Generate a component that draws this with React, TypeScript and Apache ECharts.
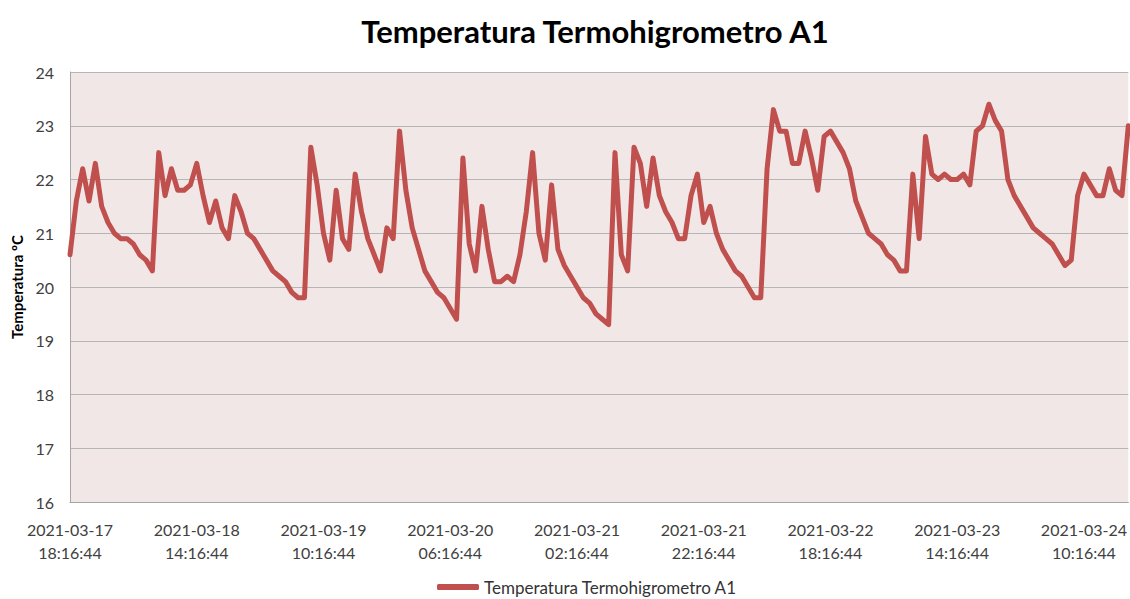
import React, { useEffect, useRef } from "react";
import * as echarts from "echarts";

const TITLE = "Temperatura Termohigrometro A1";
const Y_NAME = "Temperatura ºC";
const START_UTC = Date.UTC(2021, 2, 17, 18, 16, 44);
const STEP_HOURS = 1;

const temps: number[] = [
  20.6, 21.6, 22.2, 21.6, 22.3, 21.5, 21.2, 21.0, 20.9, 20.9,
  20.8, 20.6, 20.5, 20.3, 22.5, 21.7, 22.2, 21.8, 21.8, 21.9,
  22.3, 21.7, 21.2, 21.6, 21.1, 20.9, 21.7, 21.4, 21.0, 20.9,
  20.7, 20.5, 20.3, 20.2, 20.1, 19.9, 19.8, 19.8, 22.6, 21.9,
  21.0, 20.5, 21.8, 20.9, 20.7, 22.1, 21.4, 20.9, 20.6, 20.3,
  21.1, 20.9, 22.9, 21.8, 21.1, 20.7, 20.3, 20.1, 19.9, 19.8,
  19.6, 19.4, 22.4, 20.8, 20.3, 21.5, 20.7, 20.1, 20.1, 20.2,
  20.1, 20.6, 21.4, 22.5, 21.0, 20.5, 21.9, 20.7, 20.4, 20.2,
  20.0, 19.8, 19.7, 19.5, 19.4, 19.3, 22.5, 20.6, 20.3, 22.6,
  22.3, 21.5, 22.4, 21.7, 21.4, 21.2, 20.9, 20.9, 21.7, 22.1,
  21.2, 21.5, 21.0, 20.7, 20.5, 20.3, 20.2, 20.0, 19.8, 19.8,
  22.2, 23.3, 22.9, 22.9, 22.3, 22.3, 22.9, 22.4, 21.8, 22.8,
  22.9, 22.7, 22.5, 22.2, 21.6, 21.3, 21.0, 20.9, 20.8, 20.6,
  20.5, 20.3, 20.3, 22.1, 20.9, 22.8, 22.1, 22.0, 22.1, 22.0,
  22.0, 22.1, 21.9, 22.9, 23.0, 23.4, 23.1, 22.9, 22.0, 21.7,
  21.5, 21.3, 21.1, 21.0, 20.9, 20.8, 20.6, 20.4, 20.5, 21.7,
  22.1, 21.9, 21.7, 21.7, 22.2, 21.8, 21.7, 23.0,
];

const pad = (n: number) => String(n).padStart(2, "0");
const categories: string[] = temps.map((_, i) => {
  const d = new Date(START_UTC + i * STEP_HOURS * 3600000);
  return `${d.getUTCFullYear()}-${pad(d.getUTCMonth() + 1)}-${pad(d.getUTCDate())}\n${pad(d.getUTCHours())}:${pad(d.getUTCMinutes())}:${pad(d.getUTCSeconds())}`;
});

const FONT = "Lato, 'Open Sans', sans-serif";

export default function App() {
  const ref = useRef<HTMLDivElement>(null);
  useEffect(() => {
    if (!ref.current) return;
    const chart = echarts.init(ref.current, undefined, { renderer: "svg" });
    chart.setOption({
      animation: false,
      backgroundColor: "#ffffff",
      title: {
        text: TITLE,
        left: 590,
        top: 10,
        textAlign: "center",
        textStyle: { fontFamily: FONT, fontWeight: "bold", fontSize: 31, color: "#000000" },
      },
      grid: {
        left: 70,
        right: 0,
        top: 72,
        bottom: 97,
        show: true,
        backgroundColor: "#F2E7E7",
        borderWidth: 0,
      },
      legend: {
        data: [TITLE],
        left: 435,
        top: 576,
        padding: 2,
        itemGap: 0,
        icon: "roundRect",
        itemWidth: 42,
        itemHeight: 6,
        textStyle: { fontFamily: FONT, fontSize: 17, lineHeight: 18, color: "#333333" },
      },
      xAxis: {
        type: "category",
        data: categories,
        boundaryGap: false,
        axisLine: { show: true, lineStyle: { color: "#A6A6A6", width: 1 } },
        axisTick: { show: false },
        axisLabel: {
          interval: 19,
          color: "#404040",
          fontFamily: FONT,
          fontSize: 16,
          lineHeight: 23,
          margin: 16,
        },
        splitLine: { show: false },
      },
      yAxis: {
        type: "value",
        min: 16,
        max: 24,
        interval: 1,
        name: Y_NAME,
        nameLocation: "middle",
        nameGap: 45,
        nameTextStyle: { fontFamily: FONT, fontWeight: "bold", fontSize: 15, color: "#000000" },
        axisLine: { show: true, lineStyle: { color: "#A6A6A6", width: 1 } },
        axisTick: { show: false },
        axisLabel: { color: "#404040", fontFamily: FONT, fontSize: 16, margin: 16 },
        splitLine: { show: true, lineStyle: { color: "#B5B5B5", width: 1 } },
      },
      series: [
        {
          name: TITLE,
          type: "line",
          data: temps,
          showSymbol: false,
          symbol: "none",
          lineStyle: { width: 5, color: "#C0504D", join: "round", cap: "round" },
          itemStyle: { color: "#C0504D" },
        },
      ],
    });
    return () => chart.dispose();
  }, []);
  return (
    <div
      ref={ref}
      style={{ position: "absolute", left: 0, top: 0, width: 1130, height: 599 }}
    />
  );
}
